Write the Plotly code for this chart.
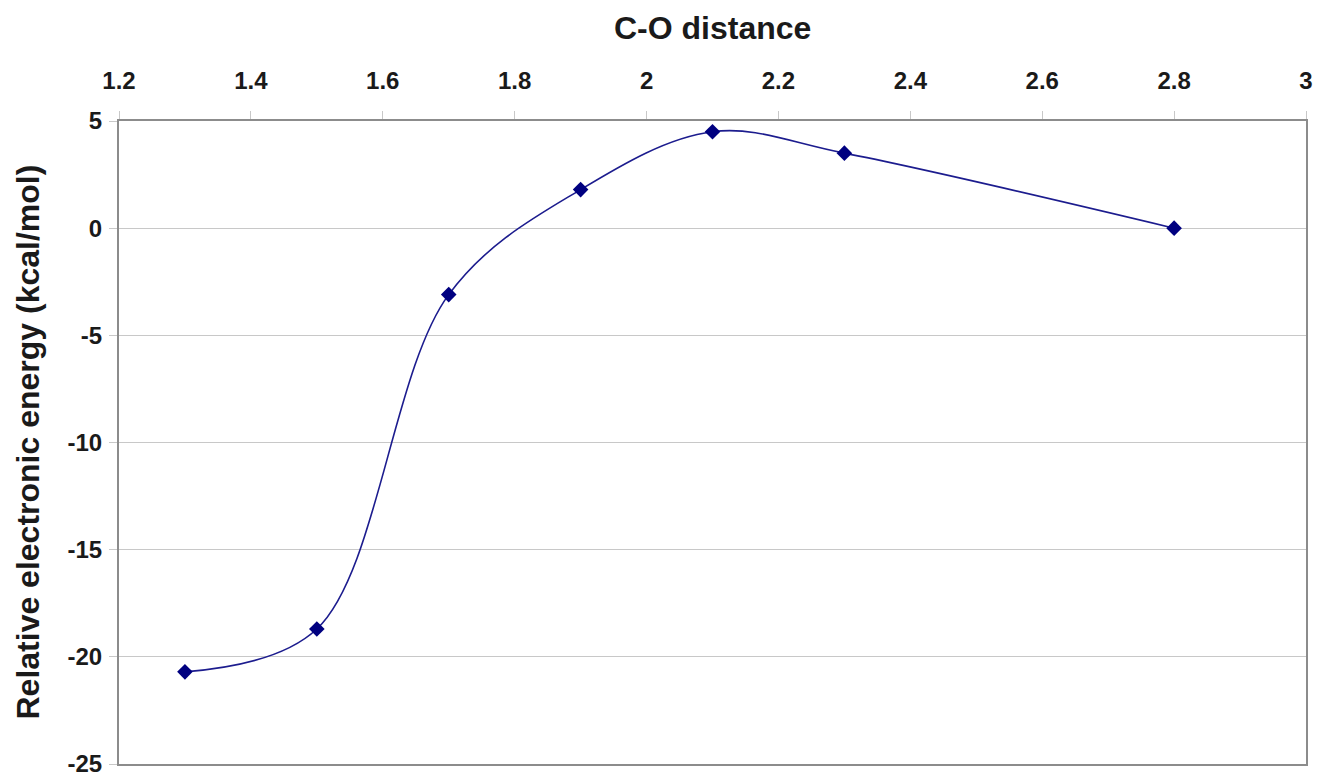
import plotly.graph_objects as go

# C-O bond distance scan and relative electronic energy
co_distance = [1.3, 1.5, 1.7, 1.9, 2.1, 2.3, 2.8]
rel_energy = [-20.7, -18.7, -3.1, 1.8, 4.5, 3.5, 0.0]

x_ticks = [1.2, 1.4, 1.6, 1.8, 2.0, 2.2, 2.4, 2.6, 2.8, 3.0]
x_tick_text = ["1.2", "1.4", "1.6", "1.8", "2", "2.2", "2.4", "2.6", "2.8", "3"]
y_ticks = [-25, -20, -15, -10, -5, 0, 5]
y_tick_text = ["-25", "-20", "-15", "-10", "-5", "0", "5"]

FONT = "Liberation Sans, Arial, sans-serif"
TEXT = "#1a1a1a"
AXIS_GRAY = "#8c8c8c"


def bold(labels):
    return [f"<b>{s}</b>" for s in labels]


fig = go.Figure()
fig.add_trace(go.Scatter(
    x=co_distance,
    y=rel_energy,
    mode="lines+markers",
    line=dict(color="#1c1c8e", width=1.6, shape="spline", smoothing=1.0),
    marker=dict(symbol="diamond", size=12, color="#000080"),
    showlegend=False,
))

fig.update_layout(
    width=1318,
    height=777,
    margin=dict(l=119, r=12, t=121, b=13),
    paper_bgcolor="white",
    plot_bgcolor="white",
    font=dict(family=FONT, color=TEXT),
    xaxis=dict(
        side="top",
        range=[1.2, 3.0],
        tickvals=x_ticks,
        ticktext=bold(x_tick_text),
        automargin=False,
        ticklabeloverflow="allow",
        showgrid=False,
        zeroline=False,
        showline=True,
        linecolor=AXIS_GRAY,
        linewidth=2,
        mirror=True,
        ticks="outside",
        ticklen=8,
        tickcolor="#c8c8c8",
        tickwidth=1,
        ticklabelstandoff=12,
        tickfont=dict(family=FONT, size=24, color=TEXT),
    ),
    yaxis=dict(
        range=[-25, 5],
        tickvals=y_ticks,
        ticktext=bold(y_tick_text),
        automargin=False,
        ticklabeloverflow="allow",
        showgrid=True,
        gridcolor="#c8c8c8",
        gridwidth=1,
        zeroline=False,
        showline=True,
        linecolor=AXIS_GRAY,
        linewidth=2,
        mirror=True,
        ticks="outside",
        ticklen=8,
        tickcolor="#c8c8c8",
        tickwidth=1,
        ticklabelstandoff=2,
        tickfont=dict(family=FONT, size=24, color=TEXT),
    ),
    annotations=[
        dict(
            text="<b>C-O distance</b>",
            xref="paper", yref="paper",
            x=0.5, y=1.0, yshift=93,
            xanchor="center", yanchor="middle",
            showarrow=False,
            font=dict(family=FONT, size=32, color=TEXT),
        ),
        dict(
            text="<b>Relative electronic energy (kcal/mol)</b>",
            xref="paper", yref="paper",
            x=0.0, xshift=-92,
            y=0.5,
            xanchor="center", yanchor="middle",
            textangle=-90,
            showarrow=False,
            font=dict(family=FONT, size=32, color=TEXT),
        ),
    ],
)

fig.write_html("out.html")
